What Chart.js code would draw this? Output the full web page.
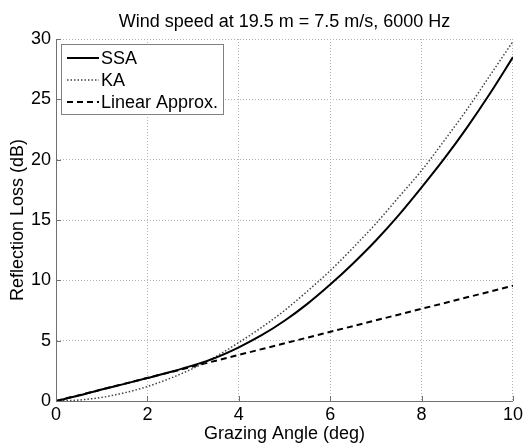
<!DOCTYPE html>
<html>
<head>
<meta charset="utf-8">
<script src="https://cdn.jsdelivr.net/npm/chart.js@4.4.0/dist/chart.umd.min.js"></script>
<style>
  html, body { margin: 0; padding: 0; background: #fff; }
  #wrap { width: 526px; height: 446px; }
</style>
</head>
<body>
<div id="wrap"><canvas id="chart" width="526" height="446"></canvas></div>
<script>
// --- data ---
const angles   = [0, 0.5, 1, 1.5, 2, 2.5, 3, 3.5, 4, 4.5, 5, 5.5, 6, 6.5, 7, 7.5, 8, 8.5, 9, 9.5, 10];
const ssaLoss  = [0, 0.45, 0.95, 1.42, 1.9, 2.4, 2.95, 3.6, 4.45, 5.45, 6.65, 8.05, 9.65, 11.4, 13.3, 15.4, 17.7, 20.1, 22.7, 25.5, 28.5];
const kaLoss   = [0, 0.08, 0.3, 0.68, 1.2, 1.88, 2.7, 3.68, 4.85, 6.1, 7.5, 9.1, 10.8, 12.7, 14.7, 16.9, 19.1, 21.6, 24.2, 27.0, 29.8];
const linAngles = [0, 10];
const linLoss   = [0, 9.55];
const xTicks = [0, 2, 4, 6, 8, 10];
const yTicks = [0, 5, 10, 15, 20, 25, 30];
const chartTitle = 'Wind speed at 19.5 m = 7.5 m/s, 6000 Hz';

const FONT = 'Liberation Sans, Arial, sans-serif';

function pts(xs, ys) {
    return xs.map((x, i) => ({ x: x, y: ys[i] }));
}

// title centred over the axes, not over the whole canvas
const axesTitle = {
    id: 'axesTitle',
    afterDraw(chart) {
        const { ctx, chartArea: a } = chart;
        ctx.save();
        ctx.font = '18px ' + FONT;
        ctx.fillStyle = '#000';
        ctx.textAlign = 'center';
        ctx.textBaseline = 'alphabetic';
        ctx.fillText(chartTitle, (a.left + a.right) / 2, 27);
        ctx.restore();
    }
};

// inward tick marks on the left and bottom axes (matlab look)
const inwardTicks = {
    id: 'inwardTicks',
    afterDatasetsDraw(chart) {
        const { ctx, chartArea: a, scales: { x, y } } = chart;
        ctx.save();
        ctx.strokeStyle = '#707070';
        ctx.lineWidth = 1;
        ctx.beginPath();
        xTicks.forEach(v => {
            const px = Math.round(x.getPixelForValue(v)) + 0.5;
            ctx.moveTo(px, a.bottom);
            ctx.lineTo(px, a.bottom - 5);
        });
        yTicks.forEach(v => {
            const py = Math.round(y.getPixelForValue(v)) + 0.5;
            ctx.moveTo(a.left, py);
            ctx.lineTo(a.left + 5, py);
        });
        ctx.stroke();
        ctx.restore();
    }
};

// boxed legend in the upper left corner of the plot
const boxLegend = {
    id: 'boxLegend',
    afterDraw(chart) {
        const { ctx, chartArea: a } = chart;
        const x0 = a.left + 5, y0 = a.top + 5, w = 162, h = 70;
        ctx.save();
        ctx.fillStyle = '#fff';
        ctx.fillRect(x0, y0, w, h);
        ctx.strokeStyle = '#808080';
        ctx.lineWidth = 1;
        ctx.strokeRect(x0 + 0.5, y0 + 0.5, w, h);
        ctx.font = '18px ' + FONT;
        ctx.textBaseline = 'middle';
        ctx.fillStyle = '#000';
        chart.data.datasets.forEach((ds, i) => {
            const cy = y0 + 14 + i * 22;
            ctx.save();
            ctx.strokeStyle = ds.borderColor;
            ctx.lineWidth = ds.borderWidth;
            ctx.setLineDash(ds.borderDash || []);
            ctx.beginPath();
            ctx.moveTo(x0 + 6, cy);
            ctx.lineTo(x0 + 38, cy);
            ctx.stroke();
            ctx.restore();
            ctx.fillText(ds.label, x0 + 40, cy + 1);
        });
        ctx.restore();
    }
};

new Chart(document.getElementById('chart'), {
    type: 'line',
    data: {
        datasets: [
            {
                label: 'SSA',
                data: pts(angles, ssaLoss),
                borderColor: '#000',
                borderWidth: 2,
                pointRadius: 0,
                cubicInterpolationMode: 'monotone'
            },
            {
                label: 'KA',
                data: pts(angles, kaLoss),
                borderColor: '#444',
                borderWidth: 1.5,
                borderDash: [1.5, 2],
                pointRadius: 0,
                cubicInterpolationMode: 'monotone'
            },
            {
                label: 'Linear Approx.',
                data: pts(linAngles, linLoss),
                borderColor: '#000',
                borderWidth: 2,
                borderDash: [6, 4],
                pointRadius: 0
            }
        ]
    },
    options: {
        responsive: false,
        animation: false,
        devicePixelRatio: 1,
        layout: { padding: { left: 0, right: 10, top: 39, bottom: 0 } },
        plugins: {
            legend: { display: false },
            tooltip: { enabled: false },
            title: { display: false }
        },
        scales: {
            x: {
                type: 'linear',
                min: 0,
                max: 10,
                afterFit(scale) { scale.height = 45; },
                afterBuildTicks(scale) { scale.ticks = xTicks.map(v => ({ value: v })); },
                ticks: { color: '#000', font: { family: FONT, size: 18 }, padding: 3, maxRotation: 0 },
                grid: { color: '#b4b4b4', lineWidth: 1, drawTicks: false },
                border: { display: true, color: '#707070', width: 1, dash: [1, 2] },
                title: {
                    display: true,
                    text: 'Grazing Angle (deg)',
                    color: '#000',
                    font: { family: FONT, size: 18 },
                    padding: { top: 0, bottom: 1 }
                }
            },
            y: {
                min: 0,
                max: 30,
                afterFit(scale) { scale.width = 56; },
                afterBuildTicks(scale) { scale.ticks = yTicks.map(v => ({ value: v })); },
                ticks: { color: '#000', font: { family: FONT, size: 18 }, padding: 5 },
                grid: { color: '#b4b4b4', lineWidth: 1, drawTicks: false },
                border: { display: true, color: '#707070', width: 1, dash: [1, 2] },
                title: {
                    display: true,
                    text: 'Reflection Loss (dB)',
                    color: '#000',
                    font: { family: FONT, size: 18 },
                    padding: { top: 7, bottom: 0 }
                }
            }
        }
    },
    plugins: [axesTitle, inwardTicks, boxLegend]
});
</script>
</body>
</html>
